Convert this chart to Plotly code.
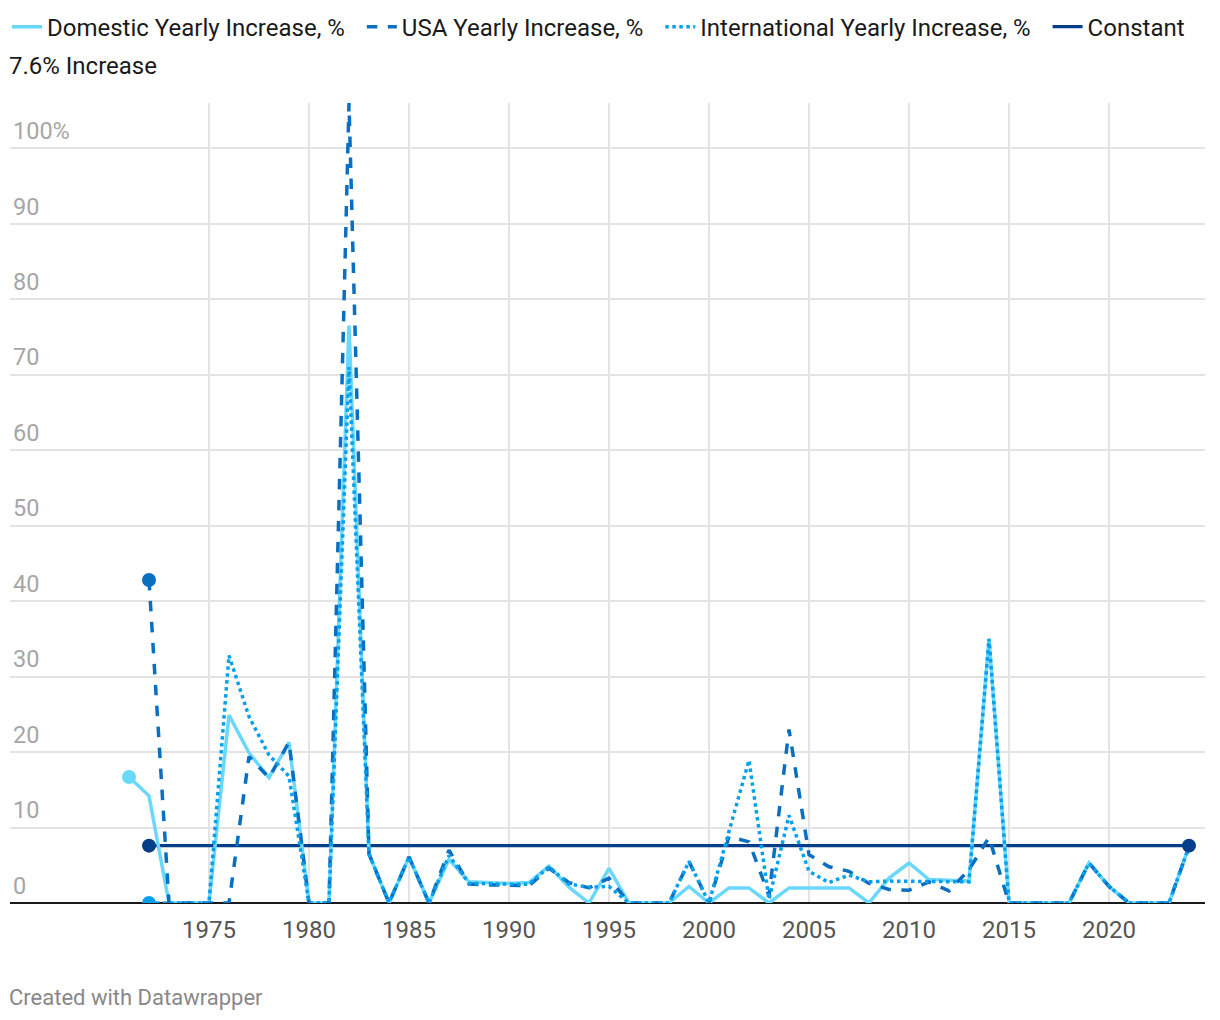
import plotly.graph_objects as go

years = list(range(1971, 2025))

domestic = [16.7, 14.2, 0, 0, 0, 24.9, 19.9, 16.6, 21.3, 0,
            0, 76.5, 6.5, 0, 6.1, 0, 5.8, 2.8, 2.7, 2.6,
            2.7, 4.9, 2.1, 0, 4.6, 0, 0, 0, 2.2, 0,
            2.0, 2.0, 0, 2.0, 2.0, 2.0, 2.0, 0, 3.3, 5.3,
            3.1, 3.0, 2.9, 35.0, 0, 0, 0, 0, 5.3, 2.2,
            0, 0, 0, 7.5]

usa = [None, 42.8, 0, 0, 0, 0, 19.4, 16.6, 21.3, 0,
       0, 106, 6.5, 0, 6.1, 0, 7.0, 2.5, 2.4, 2.4,
       2.3, 4.6, 2.7, 2.0, 3.3, 0, 0, 0, 5.5, 0,
       8.8, 8.1, 1.0, 23.0, 6.4, 4.8, 4.2, 2.6, 1.8, 1.7,
       2.8, 1.6, 4.4, 8.7, 0, 0, 0, 0, 5.3, 2.2,
       0, 0, 0, 7.5]

international = [None, 0, 0, 0, 0, 32.8, 24.7, 19.6, 16.8, 0,
                 0, 71.0, 6.5, 0, 6.1, 0, 6.3, 2.6, 2.5, 2.5,
                 2.5, 4.8, 2.5, 2.1, 2.2, 0, 0, 0, 5.5, 0,
                 9.5, 18.9, 0.5, 11.6, 4.2, 2.7, 3.7, 2.8, 2.9, 2.9,
                 2.8, 2.8, 2.8, 35.0, 0, 0, 0, 0, 5.3, 2.2,
                 0, 0, 0, 7.5]

constant_years = [1972, 2024]
constant = [7.6, 7.6]

x_ticks = [1975, 1980, 1985, 1990, 1995, 2000, 2005, 2010, 2015, 2020]
y_ticks = [0, 10, 20, 30, 40, 50, 60, 70, 80, 90, 100]
y_ticktext = ["0", "10", "20", "30", "40", "50", "60", "70", "80", "90", "100%"]

C_DOM = "#6ad8fc"
C_USA = "#0a6fc0"
C_INT = "#07a0ee"
C_CON = "#023f88"

FONT = "Roboto"
NB = "\u00a0\u00a0"

fig = go.Figure()

fig.add_trace(go.Scatter(x=constant_years, y=constant, mode="lines",
                         name="Constant", legendrank=4,
                         line=dict(color=C_CON, width=3.2)))
fig.add_trace(go.Scatter(x=years, y=domestic, mode="lines",
                         name="Domestic Yearly Increase, %" + NB, legendrank=1,
                         line=dict(color=C_DOM, width=3.5)))
fig.add_trace(go.Scatter(x=years, y=usa, mode="lines",
                         name="USA Yearly Increase, %" + NB, legendrank=2,
                         line=dict(color=C_USA, width=3.5, dash="dash")))
fig.add_trace(go.Scatter(x=years, y=international, mode="lines",
                         name="International Yearly Increase, %" + NB, legendrank=3,
                         line=dict(color=C_INT, width=3.5, dash="dot")))


def first_point(ys):
    for xv, yv in zip(years, ys):
        if yv is not None:
            return xv, yv


for ys, c in [(domestic, C_DOM), (usa, C_USA), (international, C_INT)]:
    xv, yv = first_point(ys)
    fig.add_trace(go.Scatter(x=[xv], y=[yv], mode="markers", showlegend=False,
                             hoverinfo="skip",
                             marker=dict(color=c, size=14, line=dict(width=0))))
fig.add_trace(go.Scatter(x=constant_years, y=constant, mode="markers", showlegend=False,
                         hoverinfo="skip",
                         marker=dict(color=C_CON, size=14, line=dict(width=0))))

fig.update_layout(
    width=1220, height=1020,
    margin=dict(l=10, r=15, t=103, b=117, autoexpand=False),
    paper_bgcolor="white", plot_bgcolor="white",
    font=dict(family=FONT, size=24, color="#1a1a1a"),
    showlegend=True,
    legend=dict(orientation="h", x=-0.0025, xanchor="left", y=1.123, yanchor="top",
                font=dict(family=FONT, size=24, color="#1a1a1a"),
                traceorder="normal", itemwidth=30,
                bgcolor="rgba(0,0,0,0)"),
    xaxis=dict(range=[1965.05, 2024.8], tickvals=x_ticks, showgrid=True,
               gridcolor="#e3e3e3", gridwidth=1.5, zeroline=False, showline=False,
               ticks="", ticklabelstandoff=10,
               tickfont=dict(family=FONT, size=24, color="#555555")),
    yaxis=dict(range=[0, 106], tickvals=y_ticks, ticktext=y_ticktext,
               showgrid=True, gridcolor="#e3e3e3", gridwidth=1.5,
               zeroline=True, zerolinecolor="#1a1a1a", zerolinewidth=2,
               showline=False, ticks="", ticklabelposition="inside top",
               ticklabelshift=-1,
               tickfont=dict(family=FONT, size=23.5, color="#a6a6a6")),
    annotations=[
        dict(text="7.6% Increase", x=-0.0025, xref="paper", xanchor="left",
             y=1.046, yref="paper", yanchor="middle", showarrow=False,
             font=dict(family=FONT, size=24, color="#1a1a1a")),
        dict(text="Created with Datawrapper", x=-0.0025, xref="paper", xanchor="left",
             y=-0.1175, yref="paper", yanchor="middle", showarrow=False,
             font=dict(family=FONT, size=22, color="#888888")),
    ],
)

fig.write_html("out.html", config={"displayModeBar": False},
               post_script="document.body.style.margin='0';")
